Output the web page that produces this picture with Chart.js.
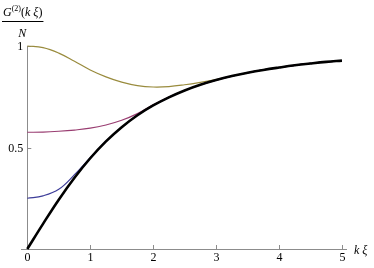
<!DOCTYPE html>
<html lang="en">
<head>
  <meta charset="UTF-8" />
  <title>G2 curves</title>
  <script src="https://cdn.jsdelivr.net/npm/chart.js"></script>
  <style>
    body { margin: 0; background: #fff; }
    #wrap { width: 374px; height: 268px; }
  </style>
</head>
<body>
  <div id="wrap"><canvas id="plot"></canvas></div>

  <script>
    // k xi sample points
    const kxi = [0, 0.25, 0.5, 0.75, 1, 1.25, 1.5, 1.75, 2, 2.25, 2.5, 2.75, 3, 3.25, 3.5, 3.75, 4, 4.25, 4.5, 4.75, 5];

    // values
    const blackCurve  = [0, 0.124, 0.243, 0.351, 0.447, 0.530, 0.600, 0.659, 0.707, 0.747, 0.781, 0.809, 0.832, 0.852, 0.868, 0.882, 0.894, 0.905, 0.914, 0.922, 0.928];
    const blueCurve   = [0.25, 0.262, 0.294, 0.366, 0.450, 0.531, 0.600, 0.659, 0.707, 0.747, 0.781, 0.809, 0.832, 0.852, 0.868, 0.882, 0.894, 0.905, 0.914, 0.922, 0.928];
    const purpleCurve = [0.575, 0.576, 0.580, 0.586, 0.595, 0.611, 0.634, 0.667, 0.710, 0.749, 0.781, 0.809, 0.832, 0.852, 0.868, 0.882, 0.894, 0.905, 0.914, 0.922, 0.928];
    const oliveCurve  = [1.0, 0.992, 0.965, 0.925, 0.882, 0.848, 0.822, 0.805, 0.798, 0.800, 0.809, 0.821, 0.835, 0.852, 0.868, 0.882, 0.894, 0.905, 0.914, 0.922, 0.928];

    const xTicks = [0, 1, 2, 3, 4, 5];
    const yTicks = [0.5, 1];

    const serif = "'Liberation Serif', 'DejaVu Serif', serif";
    const axisGray = "#8c8c8c";

    function pts(ys) {
      return kxi.map((x, i) => ({ x: x, y: ys[i] }));
    }

    function series(ys, color, width, order) {
      return {
        data: pts(ys),
        borderColor: color,
        borderWidth: width,
        pointRadius: 0,
        fill: false,
        tension: 0.4,
        clip: false,
        order: order
      };
    }

    // axes through the origin, Mathematica style
    const axesPlugin = {
      id: "originAxes",
      beforeDatasetsDraw(chart) {
        const ctx = chart.ctx;
        const xs = chart.scales.x, ys = chart.scales.y;
        const x0 = xs.getPixelForValue(0), y0 = ys.getPixelForValue(0);
        ctx.save();
        ctx.strokeStyle = axisGray;
        ctx.lineWidth = 1;
        ctx.beginPath();
        ctx.moveTo(xs.left, y0 + 0.5);
        ctx.lineTo(xs.right, y0 + 0.5);
        ctx.moveTo(Math.round(x0) + 0.5, ys.getPixelForValue(1));
        ctx.lineTo(Math.round(x0) + 0.5, y0);
        ctx.stroke();

        ctx.fillStyle = "#000";
        ctx.font = "12px " + serif;
        ctx.textAlign = "center";
        ctx.textBaseline = "top";
        xTicks.forEach(v => {
          const px = Math.round(xs.getPixelForValue(v)) + 0.5;
          if (v !== 0) {
            ctx.beginPath();
            ctx.moveTo(px, y0);
            ctx.lineTo(px, y0 - 4);
            ctx.stroke();
          }
          ctx.fillText(String(v), px, y0 + 3);
        });

        ctx.textAlign = "right";
        ctx.textBaseline = "middle";
        yTicks.forEach(v => {
          const py = Math.round(ys.getPixelForValue(v)) + 0.5;
          ctx.beginPath();
          ctx.moveTo(x0, py);
          ctx.lineTo(x0 + 4, py);
          ctx.stroke();
          ctx.fillText(String(v), x0 - 4, py);
        });

        // x axis label
        ctx.font = "italic 12px " + serif;
        ctx.textAlign = "left";
        ctx.textBaseline = "alphabetic";
        ctx.fillText("k \u03BE", 354, 254);

        // y axis label as a fraction
        let cx = 3;
        const base = 16;
        ctx.font = "italic 12px " + serif;
        ctx.fillText("G", cx, base); cx += ctx.measureText("G").width;
        ctx.font = "8px " + serif;
        ctx.fillText("(2)", cx, base - 5); cx += ctx.measureText("(2)").width;
        ctx.font = "12px " + serif;
        ctx.fillText("(", cx, base); cx += ctx.measureText("(").width;
        ctx.font = "italic 12px " + serif;
        ctx.fillText("k \u03BE", cx, base); cx += ctx.measureText("k \u03BE").width;
        ctx.font = "12px " + serif;
        ctx.fillText(")", cx, base); cx += ctx.measureText(")").width;

        ctx.strokeStyle = "#000";
        ctx.beginPath();
        ctx.moveTo(2, 21.5);
        ctx.lineTo(cx + 1, 21.5);
        ctx.stroke();
        ctx.font = "italic 12px " + serif;
        ctx.textAlign = "center";
        ctx.fillText("N", (2 + cx) / 2, 37);
        ctx.restore();
      }
    };

    new Chart(document.getElementById("plot"), {
      type: "line",
      data: {
        datasets: [
          series(blackCurve, "#000000", 2.6, 0),
          series(blueCurve, "#3d3d99", 1.2, 1),
          series(purpleCurve, "#993d71", 1.2, 1),
          series(oliveCurve, "#998b3d", 1.2, 1)
        ]
      },
      options: {
        responsive: true,
        maintainAspectRatio: false,
        animation: false,
        layout: { padding: { left: 21, right: 27, top: 46, bottom: 19 } },
        plugins: { legend: { display: false }, tooltip: { enabled: false } },
        scales: {
          x: { type: "linear", min: -0.1, max: 5.08, display: false },
          y: { type: "linear", min: 0, max: 1, display: false }
        }
      },
      plugins: [axesPlugin]
    });
  </script>
</body>
</html>
